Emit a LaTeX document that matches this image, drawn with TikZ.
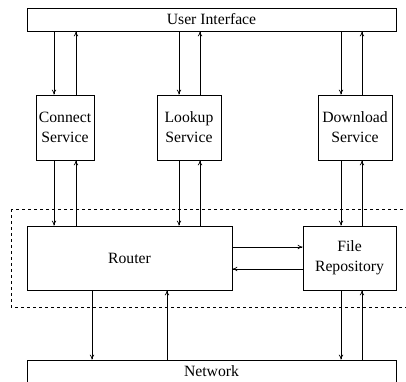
\documentclass[tikz,border=0pt]{standalone}
\usepackage{fontspec}
\setmainfont{Liberation Serif}
\usetikzlibrary{arrows.meta}

\begin{document}
\begin{tikzpicture}[
    x=1pt, y=-1pt,
    font=\fontsize{15.7}{20}\selectfont,
    box/.style={rectangle, draw, line width=0.7pt, inner sep=0pt, align=center},
    arrow/.style={-{To[length=5pt,width=4.5pt]}, line width=0.7pt}
]
\useasboundingbox (0,0) rectangle (406,381);
\begin{scope}
\clip (0,0) rectangle (406,381);
\draw[dashed, line width=0.7pt] (11,209) rectangle (415,307);
\node[box, minimum width=369pt, minimum height=23pt] (ui) at (211.5,19.5) {User Interface};
\node[box, minimum width=58pt, minimum height=65pt] (connect) at (65,127.5) {Connect\\Service};
\node[box, minimum width=64pt, minimum height=65pt] (lookup) at (189,127.5) {Lookup\\Service};
\node[box, minimum width=74pt, minimum height=65pt] (download) at (355,127.5) {Download\\Service};
\node[box, minimum width=205pt, minimum height=64pt] (router) at (129.5,258) {Router};
\node[box, minimum width=93pt, minimum height=64pt] (repo) at (349.5,258) {File\\Repository};
\node[box, minimum width=369pt, minimum height=23pt] (network) at (211.5,371.5) {Network};

\draw[arrow] ([xshift=-11pt]connect.north |- ui.south) -- ([xshift=-11pt]connect.north);
\draw[arrow] ([xshift=11pt]connect.north) -- ([xshift=11pt]connect.north |- ui.south);
\draw[arrow] ([xshift=-10pt]lookup.north |- ui.south) -- ([xshift=-10pt]lookup.north);
\draw[arrow] ([xshift=11pt]lookup.north) -- ([xshift=11pt]lookup.north |- ui.south);
\draw[arrow] ([xshift=-14pt]download.north |- ui.south) -- ([xshift=-14pt]download.north);
\draw[arrow] ([xshift=7pt]download.north) -- ([xshift=7pt]download.north |- ui.south);

\draw[arrow] ([xshift=-11pt]connect.south) -- ([xshift=-11pt]connect.south |- router.north);
\draw[arrow] ([xshift=11pt]connect.south |- router.north) -- ([xshift=11pt]connect.south);
\draw[arrow] ([xshift=-10pt]lookup.south) -- ([xshift=-10pt]lookup.south |- router.north);
\draw[arrow] ([xshift=11pt]lookup.south |- router.north) -- ([xshift=11pt]lookup.south);
\draw[arrow] ([xshift=-14pt]download.south) -- ([xshift=-14pt]download.south |- repo.north);
\draw[arrow] ([xshift=7pt]download.south |- repo.north) -- ([xshift=7pt]download.south);

\draw[arrow] ([yshift=11pt]router.east) -- ([yshift=11pt]router.east -| repo.west);
\draw[arrow] ([yshift=-11pt]repo.west) -- ([yshift=-11pt]repo.west -| router.east);

\draw[arrow] ([xshift=-37.5pt]router.south) -- ([xshift=-37.5pt]router.south |- network.north);
\draw[arrow] ([xshift=37.5pt]router.south |- network.north) -- ([xshift=37.5pt]router.south);
\draw[arrow] ([xshift=-8.5pt]repo.south) -- ([xshift=-8.5pt]repo.south |- network.north);
\draw[arrow] ([xshift=12.5pt]repo.south |- network.north) -- ([xshift=12.5pt]repo.south);
\end{scope}
\end{tikzpicture}
\end{document}
